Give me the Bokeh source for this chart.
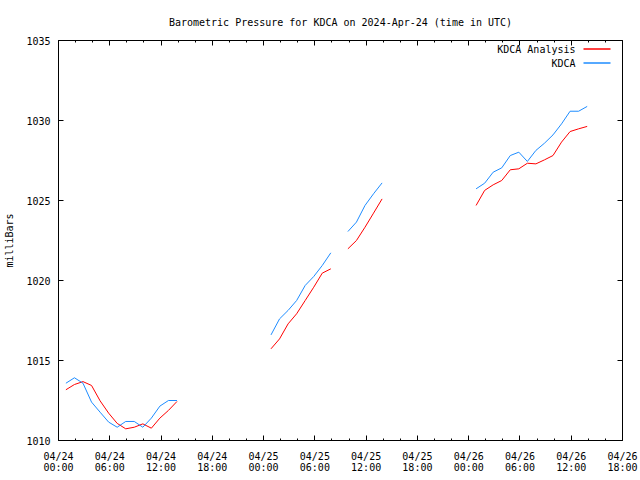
import numpy as np
import pandas as pd
from bokeh.plotting import figure
from bokeh.models import (Range1d, FixedTicker, LinearAxis, Label, Arrow,
                          CustomJSTickFormatter)
from bokeh.embed import file_html
from bokeh.resources import INLINE

# ---------------- data ----------------
start_time = pd.Timestamp("2024-04-24 00:00")
obs_times = pd.date_range("2024-04-24 00:52", periods=62, freq="h")

kdca_analysis = [
    1013.17, 1013.50, 1013.68, 1013.44, 1012.48, 1011.71, 1011.07, 1010.73, 1010.83, 1011.04,
    1010.77, 1011.40, 1011.88, 1012.44,
    None, None, None, None, None, None, None, None, None, None,
    1015.73, 1016.35, 1017.29, 1017.92, 1018.75, 1019.58, 1020.46, 1020.73,
    None,
    1021.98, 1022.50, 1023.33, 1024.21, 1025.10,
    None, None, None, None, None, None, None, None, None, None,
    1024.69, 1025.63, 1025.98, 1026.25, 1026.92, 1026.98, 1027.33, 1027.29, 1027.54, 1027.81,
    1028.65, 1029.31, 1029.48, 1029.63,
]

kdca = [
    1013.58, 1013.92, 1013.58, 1012.40, 1011.77, 1011.15, 1010.83, 1011.19, 1011.19, 1010.83,
    1011.40, 1012.15, 1012.50, 1012.50,
    None, None, None, None, None, None, None, None, None, None,
    1016.60, 1017.60, 1018.13, 1018.75, 1019.69, 1020.25, 1020.94, 1021.73,
    None,
    1023.06, 1023.65, 1024.69, 1025.42, 1026.10,
    None, None, None, None, None, None, None, None, None, None,
    1025.73, 1026.08, 1026.77, 1027.04, 1027.81, 1028.02, 1027.44, 1028.13, 1028.58, 1029.10,
    1029.79, 1030.58, 1030.58, 1030.88,
]

x_tick_hours = [0, 6, 12, 18, 24, 30, 36, 42, 48, 54, 60, 66]
x_tick_labels = ["04/24\n00:00", "04/24\n06:00", "04/24\n12:00", "04/24\n18:00",
                 "04/25\n00:00", "04/25\n06:00", "04/25\n12:00", "04/25\n18:00",
                 "04/26\n00:00", "04/26\n06:00", "04/26\n12:00", "04/26\n18:00"]
x_minor_hours = [0, 2, 4, 6, 8, 10, 12, 14, 16, 18, 20, 22, 24, 26, 28, 30, 32, 34,
                 36, 38, 40, 42, 44, 46, 48, 50, 52, 54, 56, 58, 60, 62, 64, 66]
y_ticks = [1010, 1015, 1020, 1025, 1030, 1035]

series_names = ["KDCA Analysis", "KDCA"]
series_colors = ["#ff0000", "#1e8cff"]

# ---------------- build ----------------
hours = ((obs_times - start_time) / pd.Timedelta(hours=1)).to_numpy(dtype=float)
ana = np.array([np.nan if v is None else v for v in kdca_analysis], dtype=float)
obs = np.array([np.nan if v is None else v for v in kdca], dtype=float)

FONT = "DejaVu Sans Mono"
FS = "10px"

p = figure(width=640, height=480, output_backend="svg", toolbar_location=None,
           x_range=Range1d(0, 66), y_range=Range1d(1010, 1035),
           min_border_left=58, min_border_right=18, min_border_top=40, min_border_bottom=40,
           title="Barometric Pressure for KDCA on 2024-Apr-24 (time in UTC)")
p.background_fill_color = "white"
p.border_fill_color = "white"
p.outline_line_color = "black"
p.outline_line_width = 1
p.grid.visible = False

p.title.text_font = FONT
p.title.text_font_size = FS
p.title.text_font_style = "normal"
p.title.text_color = "black"
p.title.align = "center"
p.title.standoff = 26

xt = FixedTicker(ticks=x_tick_hours, minor_ticks=x_minor_hours)
yt = FixedTicker(ticks=y_ticks, minor_ticks=[])

xa = p.xaxis[0]
xa.ticker = xt
xa.major_label_overrides = {h: lab for h, lab in zip(x_tick_hours, x_tick_labels)}
ya = p.yaxis[0]
ya.ticker = yt
ya.axis_label = "milliBars"
ya.axis_label_standoff = 8
ya.axis_label_text_font = FONT
ya.axis_label_text_font_size = FS
ya.axis_label_text_font_style = "normal"
ya.axis_label_text_color = "black"

for ax in (xa, ya):
    ax.axis_line_color = None
    ax.major_tick_in = 5
    ax.major_tick_out = 0
    ax.minor_tick_in = 2
    ax.minor_tick_out = 0
    ax.major_tick_line_color = "black"
    ax.minor_tick_line_color = "black"
    ax.major_label_text_font = FONT
    ax.major_label_text_font_size = FS
    ax.major_label_text_color = "black"
    ax.major_label_standoff = 8
xa.major_label_standoff = 10
xa.major_label_text_line_height = 1.0

blank = CustomJSTickFormatter(code="return ''")
top = LinearAxis(ticker=xt, formatter=blank, major_label_text_font_size="0px",
                 major_label_standoff=0, axis_line_color=None,
                 major_tick_in=5, major_tick_out=0, minor_tick_in=2, minor_tick_out=0,
                 major_tick_line_color="black", minor_tick_line_color="black")
right = LinearAxis(ticker=yt, formatter=blank, major_label_text_font_size="0px",
                   major_label_standoff=0, axis_line_color=None,
                   major_tick_in=5, major_tick_out=0, minor_tick_in=2, minor_tick_out=0,
                   major_tick_line_color="black", minor_tick_line_color="black")
p.add_layout(top, "above")
p.add_layout(right, "right")

p.line(hours, ana, line_color=series_colors[0], line_width=1)
p.line(hours, obs, line_color=series_colors[1], line_width=1)

# legend (gnuplot style: text then sample), screen units relative to frame
for i, (name, col) in enumerate(zip(series_names, series_colors)):
    ypos = 391 - 14 * i
    p.add_layout(Label(x=517, y=ypos, x_units="screen", y_units="screen", text=name,
                       text_align="right", text_baseline="middle",
                       text_font=FONT, text_font_size=FS, text_color="black"))
    p.add_layout(Arrow(start=None, end=None, x_start=525, y_start=ypos + 0.5,
                       x_end=552, y_end=ypos + 0.5,
                       start_units="screen", end_units="screen",
                       line_color=col, line_width=1.5))

open("out.html", "w").write(file_html(p, INLINE))
